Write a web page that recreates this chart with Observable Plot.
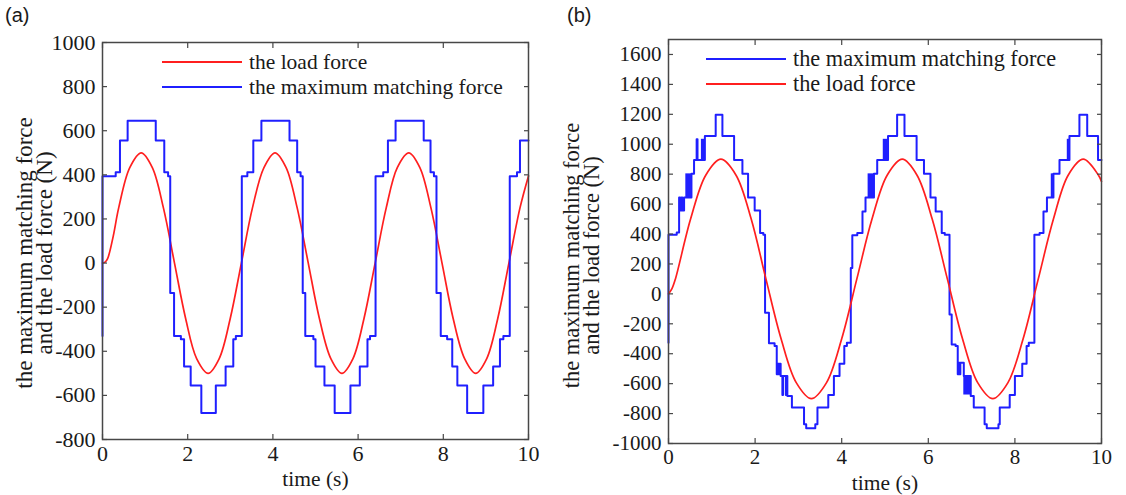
<!DOCTYPE html>
<html>
<head>
<meta charset="utf-8">
<script src="https://cdn.jsdelivr.net/npm/d3@7"></script>
<script src="https://cdn.jsdelivr.net/npm/@observablehq/plot@0.6"></script>
<style>
  body { margin: 0; background: #fff; }
  #wrap { position: relative; width: 1126px; height: 495px; overflow: hidden; font-family: "Liberation Serif", "Times New Roman", serif; }
  .panel { position: absolute; top: 0; }
  .tag { position: absolute; font-family: "Liberation Sans", Arial, sans-serif; font-size: 20px; color: #1a1a1a; }
  .leg { position: absolute; display: flex; align-items: center; color: #1a1a1a; line-height: 24px; white-space: nowrap; }
  .leg svg { display: block; margin-right: 7px; }
</style>
</head>
<body>
<div id="wrap">
  <div id="pa" class="panel" style="left:0px"></div>
  <div id="pb" class="panel" style="left:563px"></div>
  <div class="tag" style="left:5px;top:4px">(a)</div>
  <div class="tag" style="left:567px;top:4px">(b)</div>
  <div id="legA"></div>
  <div id="legB"></div>
</div>
<script>
// ---------- data ----------
const xTicks = [0, 2, 4, 6, 8, 10];
const yTicksA = [-800, -600, -400, -200, 0, 200, 400, 600, 800, 1000];
const yTicksB = [-1000, -800, -600, -400, -200, 0, 200, 400, 600, 800, 1000, 1200, 1400, 1600];

const seriesNamesA = ["the load force", "the maximum matching force"];
const seriesNamesB = ["the maximum matching force", "the load force"];
const yLabel = "the maximum matching force\nand the load force (N)";
const xLabel = "time (s)";

// (a) load force
const loadA_t = [0, 0.06, 0.12, 0.25, 0.38, 0.64, 0.91, 1.17, 1.43, 1.69, 1.95, 2.21, 2.48, 2.74, 3.00, 3.26, 3.52, 3.79, 4.05, 4.31, 4.57, 4.83, 5.09, 5.36, 5.62, 5.88, 6.14, 6.40, 6.66, 6.92, 7.19, 7.45, 7.71, 7.97, 8.23, 8.50, 8.76, 9.02, 9.28, 9.54, 9.80, 10.0];
const loadA_v = [0, 4, 20, 120, 250, 433, 500, 433, 250, 0, -250, -433, -500, -433, -250, 0, 250, 433, 500, 433, 250, 0, -250, -433, -500, -433, -250, 0, 250, 433, 500, 433, 250, 0, -250, -433, -500, -433, -250, 0, 250, 395];

// (a) maximum matching force (step levels, each held until next time)
const maxA_t = [0, 0, 0.31, 0.41, 0.59, 1.25, 1.45, 1.54, 1.59, 1.68, 1.84, 1.915, 2.07, 2.32, 2.66, 2.89, 3.07, 3.13, 3.27, 3.40, 3.54, 3.73, 4.39, 4.57, 4.65, 4.70, 4.76, 4.95, 5.00, 5.21, 5.45, 5.82, 6.04, 6.22, 6.28, 6.41, 6.59, 6.70, 6.88, 7.54, 7.70, 7.78, 7.84, 7.94, 8.09, 8.21, 8.33, 8.56, 8.94, 9.17, 9.33, 9.41, 9.56, 9.73, 9.80, 10];
const maxA_v = [-331, 394, 412, 556, 645, 556, 412, 394, -136, -331, -346, -469, -555, -680, -555, -469, -346, -331, 394, 412, 556, 645, 556, 412, 394, -136, -331, -346, -469, -555, -680, -555, -469, -346, -331, 394, 412, 556, 645, 556, 412, 394, -136, -331, -346, -469, -555, -680, -555, -469, -346, -331, 394, 412, 556, 556];

// (b) load force
const loadB_t = [0, 0.08, 0.16, 0.51, 0.86, 1.21, 1.56, 1.91, 2.25, 2.60, 2.95, 3.30, 3.65, 4.00, 4.35, 4.70, 5.05, 5.40, 5.74, 6.09, 6.44, 6.79, 7.14, 7.49, 7.84, 8.19, 8.54, 8.89, 9.23, 9.58, 9.93, 10.0];
const loadB_v = [0, 35, 100, 500, 793, 900, 793, 500, 100, -300, -593, -700, -593, -300, 100, 500, 793, 900, 793, 500, 100, -300, -593, -700, -593, -300, 100, 500, 793, 900, 793, 751];

// (b) maximum matching force
const maxB_t = [0, 0, 0.19, 0.245, 0.27, 0.30, 0.32, 0.36, 0.53, 0.59, 0.65, 0.67, 0.84, 1.09, 1.245, 1.515, 1.707, 1.838, 1.99, 2.115, 2.19,
  2.23, 2.32, 2.45, 2.50, 2.52, 2.55, 2.57, 2.59, 2.63, 2.645, 2.71, 2.725, 2.745, 2.85, 3.13, 3.18, 3.39, 3.44, 3.69, 3.82, 3.95, 4.06, 4.12,
  4.21, 4.245, 4.36, 4.48, 4.55, 4.745, 4.82, 5.07, 5.28, 5.45, 5.73, 5.90, 6.05, 6.17, 6.31, 6.38,
  6.49, 6.54, 6.63, 6.68, 6.70, 6.72, 6.74, 6.82, 6.98, 7.05, 7.30, 7.35, 7.62, 7.65, 7.88, 8.00, 8.17, 8.27, 8.32,
  8.45, 8.57, 8.66, 8.74, 8.89, 9.03, 9.26, 9.49, 9.67, 9.92, 10];
const maxB_v = [-327, 395, 410, 644, 557, 644, 557, 644, 802, 895, 1033, 895, 1055, 1197, 1055, 895, 802, 644, 557, 407, 395,
  -127, -330, -349, -538, -467, -538, -467, -549, -676, -549, -676, -549, -683, -760, -871, -898, -871, -760, -676, -549, -467, -349, -327,
  173, 391, 407, 551, 644, 802, 895, 1055, 1197, 1055, 895, 802, 644, 551, 407, 395,
  -138, -338, -349, -538, -460, -538, -460, -549, -683, -760, -871, -898, -871, -760, -676, -549, -467, -349, -327,
  395, 407, 551, 644, 802, 895, 1055, 1197, 1055, 895, 895];

// (b) fast switching (chatter) intervals: start, end, low, high
const chatB_t1 = [0.40, 0.76, 4.61, 4.96, 6.82, 8.84, 9.21];
const chatB_t2 = [0.53, 0.84, 4.745, 5.07, 6.98, 8.89, 9.26];
const chatB_lo = [644, 895, 644, 895, -676, 644, 895];
const chatB_hi = [802, 1033, 802, 1033, -549, 802, 1033];

// ---------- drawing ----------
const BLUE = "#1f1fff", RED = "#ff1f1f", AXIS = "#474747", TEXT = "#1a1a1a";
const SERIF = "Liberation Serif";
const zip = (ts, vs) => ts.map((t, i) => ({t, v: vs[i]}));
const blank = () => "";

function panel(o) {
  const load = zip(o.loadT, o.loadV);
  const maxF = zip(o.maxT, o.maxV);
  const loadMark = Plot.line(load, {x: "t", y: "v", curve: "catmull-rom", stroke: RED, strokeWidth: 1.7});
  const maxMarks = [
    Plot.line(maxF, {x: "t", y: "v", curve: "step-after", stroke: BLUE, strokeWidth: 2}),
  ];
  if (o.chat) maxMarks.push(Plot.rect(o.chat, {x1: "t1", x2: "t2", y1: "lo", y2: "hi", fill: BLUE}));
  const data = o.loadFirst ? [loadMark, ...maxMarks] : [...maxMarks, loadMark];
  return Plot.plot({
    width: 563, height: 495,
    marginLeft: o.ml, marginRight: o.mr, marginTop: o.mt, marginBottom: o.mb,
    x: {domain: [0, 10]},
    y: {domain: o.yDomain},
    style: {fontFamily: SERIF, fontSize: "21px", color: TEXT, background: "#fff", overflow: "visible"},
    marks: [
      ...data,
      Plot.frame({stroke: AXIS, strokeWidth: 1.5}),
      // inward ticks on all four sides
      Plot.axisX({ticks: xTicks, tickSize: -5, tickFormat: blank, label: null, stroke: AXIS, strokeWidth: 1.2}),
      Plot.axisX({anchor: "top", ticks: xTicks, tickSize: -5, tickFormat: blank, label: null, stroke: AXIS, strokeWidth: 1.2}),
      Plot.axisY({ticks: o.yTicks, tickSize: -5, tickFormat: blank, label: null, stroke: AXIS, strokeWidth: 1.2}),
      Plot.axisY({anchor: "right", ticks: o.yTicks, tickSize: -5, tickFormat: blank, label: null, stroke: AXIS, strokeWidth: 1.2}),
      // tick labels
      Plot.text(xTicks, {x: d => d, frameAnchor: "bottom", text: d => String(d), textAnchor: "middle", lineAnchor: "top", dy: 6, fontFamily: SERIF, fontSize: o.tickFs, fill: TEXT}),
      Plot.text(o.yTicks, {y: d => d, frameAnchor: "left", text: d => String(d), textAnchor: "end", lineAnchor: "middle", dx: -7, fontFamily: SERIF, fontSize: o.tickFs, fill: TEXT}),
      // axis titles
      Plot.text([yLabel], {text: d => d, frameAnchor: "left", textAnchor: "middle", lineAnchor: "middle", rotate: -90, dx: o.ylDx, dy: o.ylDy, fontFamily: SERIF, fontSize: o.labFs, lineHeight: 0.9, fill: TEXT}),
      Plot.text([xLabel], {text: d => d, frameAnchor: "bottom", textAnchor: "middle", lineAnchor: "middle", dy: 40, fontFamily: SERIF, fontSize: 21.5, fill: TEXT})
    ]
  });
}

document.getElementById("pa").append(panel({
  ml: 102, mr: 35, mt: 42, mb: 56, yDomain: [-800, 1000], yTicks: yTicksA,
  loadT: loadA_t, loadV: loadA_v, maxT: maxA_t, maxV: maxA_v, loadFirst: true,
  ylDx: -67, ylDy: 12, tickFs: 22, labFs: 23
}));

const chatB = chatB_t1.map((t1, i) => ({t1, t2: chatB_t2[i], lo: chatB_lo[i], hi: chatB_hi[i]}));
document.getElementById("pb").append(panel({
  ml: 105, mr: 25, mt: 39, mb: 52, yDomain: [-1000, 1700], yTicks: yTicksB,
  loadT: loadB_t, loadV: loadB_v, maxT: maxB_t, maxV: maxB_v, chat: chatB, loadFirst: false,
  ylDx: -86, ylDy: 14, tickFs: 21, labFs: 22.5
}));

// ---------- legends ----------
function legend(el, left, top, names, colors, fs) {
  el.innerHTML = "";
  names.forEach((n, i) => {
    const row = document.createElement("div");
    row.className = "leg";
    row.style.left = left + "px";
    row.style.top = (top + i * 24.5) + "px";
    row.style.fontSize = fs + "px";
    row.innerHTML = `<svg width="80" height="4"><line x1="0" x2="80" y1="2" y2="2" stroke="${colors[i]}" stroke-width="2"/></svg><span>${n}</span>`;
    el.appendChild(row);
  });
}
legend(document.getElementById("legA"), 162, 50, seriesNamesA, [RED, BLUE], 21.5);
legend(document.getElementById("legB"), 706, 47, seriesNamesB, [BLUE, RED], 22.3);
</script>
</body>
</html>
